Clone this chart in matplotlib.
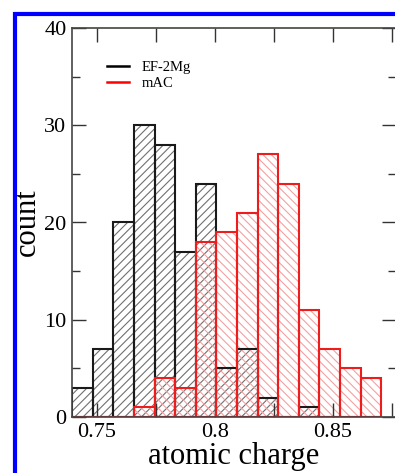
import matplotlib
matplotlib.use("Agg")
import matplotlib.pyplot as plt
from matplotlib.patches import Rectangle
from matplotlib.lines import Line2D
import numpy as np

# histogram data
bin_start = 0.7395
bin_width = 0.00873
ef2mg_counts = [3, 7, 20, 30, 28, 17, 24, 5, 7, 2, 0, 1, 0, 0, 0]
mac_counts = [0, 0, 0, 1, 4, 3, 18, 19, 21, 27, 24, 11, 7, 5, 4]
labels = ["EF-2Mg", "mAC"]
xticks = [0.75, 0.8, 0.85]

plt.rcParams["font.family"] = ["Liberation Serif", "DejaVu Serif"]
plt.rcParams["hatch.linewidth"] = 0.8

W, H = 395, 473
fig = plt.figure(figsize=(W / 100, H / 100), dpi=100)
ax = fig.add_axes([72 / W, (H - 417) / H, 324 / W, 389 / H])

edges = bin_start + bin_width * np.arange(len(ef2mg_counts))

# hatch fill (colour of hatch comes from edgecolor), then outlines on top
ax.bar(edges, ef2mg_counts, width=bin_width, align="edge", facecolor="none",
       edgecolor="#707070", hatch="////", linewidth=0, zorder=1)
ax.bar(edges, mac_counts, width=bin_width, align="edge", facecolor="none",
       edgecolor="#f4a0a0", hatch="\\\\\\\\", linewidth=0, zorder=1)
ax.bar(edges, ef2mg_counts, width=bin_width, align="edge", fill=False,
       edgecolor="#1a1a1a", linewidth=1.5, zorder=2)
ax.bar(edges, mac_counts, width=bin_width, align="edge", fill=False,
       edgecolor="#ee1c1c", linewidth=1.5, zorder=2)

ax.set_xlim(0.7394, 0.8767)
ax.set_ylim(0, 40)
ax.set_xticks(xticks)
ax.set_xticklabels(["0.75", "0.8", "0.85"])
ax.set_xticks([0.775, 0.825, 0.875], minor=True)
ax.set_yticks([0, 10, 20, 30, 40])
ax.set_yticks([5, 15, 25, 35], minor=True)
ax.tick_params(which="both", direction="in", top=True, right=True,
               labelsize=16, color="#333333")
ax.tick_params(which="major", length=10, width=1)
ax.tick_params(which="minor", length=6, width=1)
ax.tick_params(axis="x", which="minor", length=10)
ax.tick_params(axis="x", pad=4)
ax.tick_params(axis="y", pad=4)
for s in ax.spines.values():
    s.set_color("#444444")
    s.set_linewidth(1.2)

ax.set_xlabel("atomic charge", fontsize=22, labelpad=0)
ax.set_ylabel("count", fontsize=22, labelpad=2)

handles = [Line2D([], [], color="black", linewidth=1.8),
           Line2D([], [], color="red", linewidth=1.8)]
ax.legend(handles, labels, loc="upper left", bbox_to_anchor=(0.108, 0.915),
          frameon=False, fontsize=10.5, borderpad=0, borderaxespad=0,
          handlelength=1.5, handletextpad=0.9, labelspacing=0.15)

# blue frame around the panel
fig.patches.append(Rectangle((14.5 / W, -0.5), 2, 1 - 14.5 / H + 0.5,
                             transform=fig.transFigure, fill=False,
                             edgecolor="#0000ff", linewidth=3, clip_on=False))

fig.savefig("out.png", dpi=100)
